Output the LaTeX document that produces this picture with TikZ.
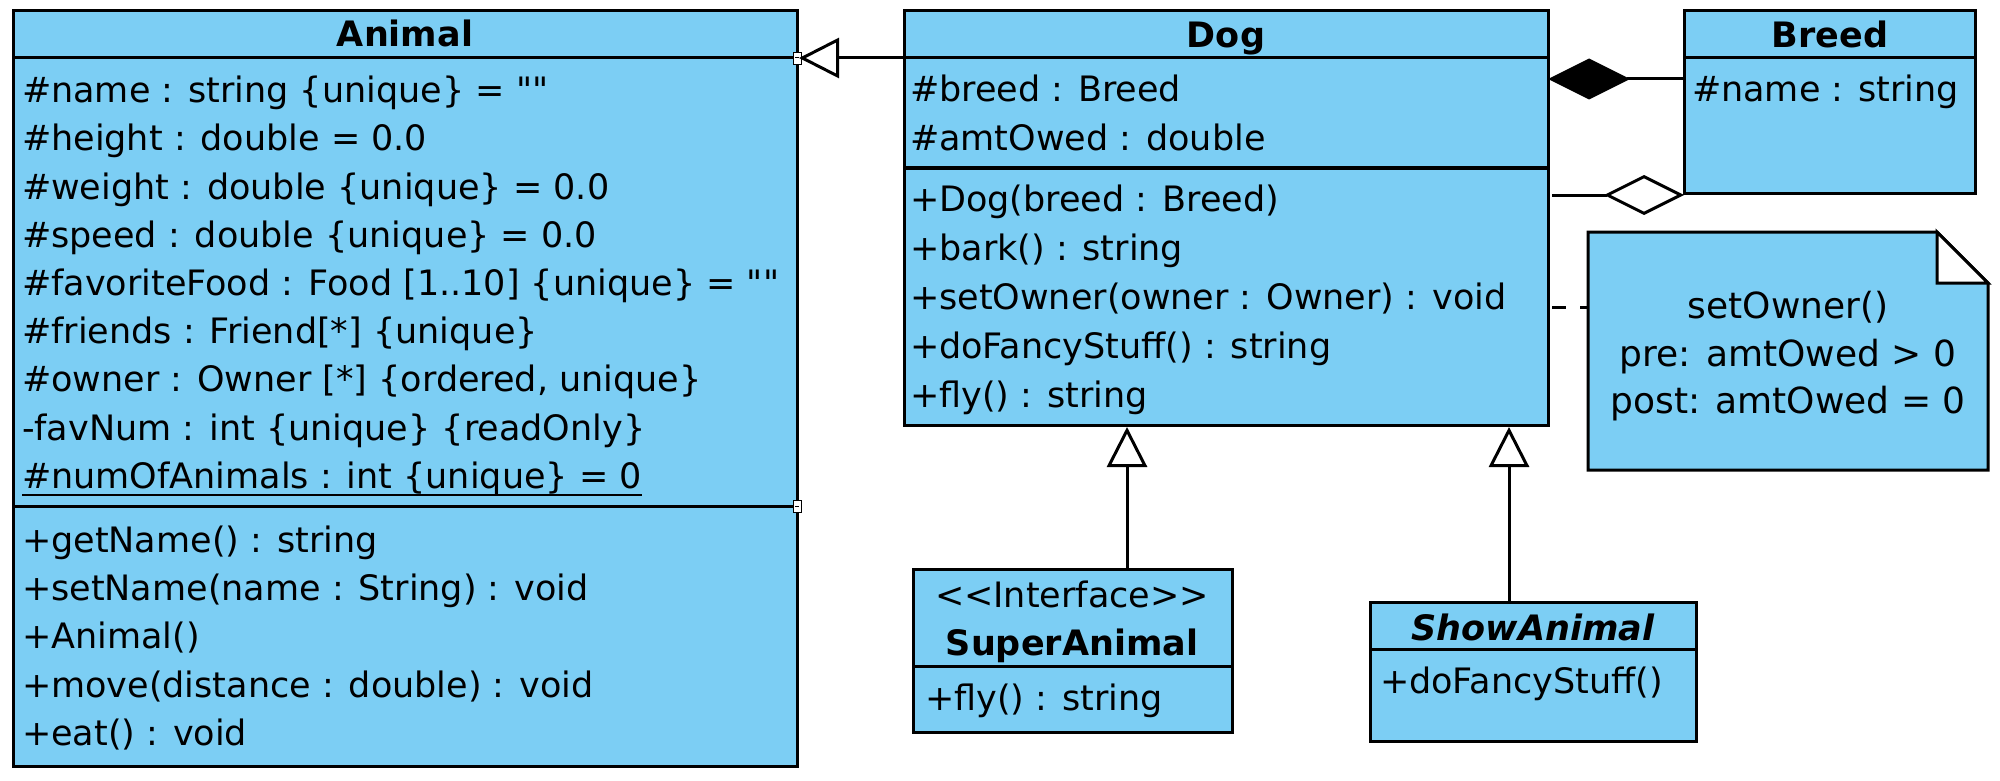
\documentclass[tikz,border=0pt]{standalone}
\usepackage{fontspec}
\setmainfont{DejaVu Sans}[Ligatures=TeXOff]
\usetikzlibrary{arrows.meta,calc}
\definecolor{umlblue}{RGB}{124,206,244}
\begin{document}
\begin{tikzpicture}[x=1pt,y=-1pt,
  box/.style={draw=black, fill=umlblue, line width=3pt, inner sep=0pt, outer sep=0pt, anchor=north west},
  div/.style={line width=3pt},
  txt/.style={inner sep=0pt, outer sep=0pt, anchor=base west, font=\fontsize{35}{42}\selectfont},
  ttl/.style={inner sep=0pt, outer sep=0pt, anchor=base, font=\fontsize{35}{42}\selectfont\bfseries},
  notetxt/.style={inner sep=0pt, outer sep=0pt, anchor=base, font=\fontsize{36}{43}\selectfont},
  conn/.style={line width=3pt},
  gen/.style={conn, -{Triangle[length=40pt,width=40pt,fill=white]}, shorten >=2pt},
  comp/.style={conn, -{Diamond[length=82pt,width=41pt]}},
  aggr/.style={conn, -{Diamond[length=80pt,width=40pt,fill=white]}},
  notelink/.style={conn, dash pattern=on 14pt off 14pt},
  handle/.style={fill=white, draw=black, line width=0.8pt}
]
\useasboundingbox (0,0) rectangle (2000,781);

% ---------------- Animal ----------------
\node[box, minimum width=784pt, minimum height=755pt] (animal) at (13,11) {};
\draw[div] (animal.west |- 0,58) -- (animal.east |- 0,58);
\draw[div] (animal.west |- 0,506) -- (animal.east |- 0,506);
\node[ttl] (animalT) at (405,47) {Animal};
\node[txt] (a1) at (22,103) {\#name : string \{unique\} = ""};
\node[txt] (a2) at (22,151) {\#height : double = 0.0};
\node[txt] (a3) at (22,199) {\#weight : double \{unique\} = 0.0};
\node[txt] (a4) at (22,247) {\#speed : double \{unique\} = 0.0};
\node[txt] (a5) at (22,295) {\#favoriteFood : Food [1..10] \{unique\} = ""};
\node[txt] (a6) at (22,343) {\#friends : Friend[*] \{unique\}};
\node[txt] (a7) at (22,391) {\#owner : Owner [*] \{ordered, unique\}};
\node[txt] (a8) at (22,440) {-favNum : int \{unique\} \{readOnly\}};
\node[txt] (a9) at (22,488) {\#numOfAnimals : int \{unique\} = 0};
\draw[line width=2.5pt] ([yshift=-7pt]a9.base west) -- ([yshift=-7pt]a9.base east);
\node[txt] (o1) at (22,552) {+getName() : string};
\node[txt] (o2) at (22,600) {+setName(name : String) : void};
\node[txt] (o3) at (22,648) {+Animal()};
\node[txt] (o4) at (22,697) {+move(distance : double) : void};
\node[txt] (o5) at (22,745) {+eat() : void};
\draw[handle] (793,52) rectangle (801,64);
\draw[line width=1pt] (795,58) -- (799,58);
\draw[handle] (793,500) rectangle (801,512);
\draw[line width=1pt] (795,506) -- (799,506);

% ---------------- Dog ----------------
\node[box, minimum width=644pt, minimum height=414pt] (dog) at (904,11) {};
\draw[div] (dog.west |- 0,58) -- (dog.east |- 0,58);
\draw[div] (dog.west |- 0,168) -- (dog.east |- 0,168);
\node[ttl] (dogT) at (1226,48) {Dog};
\node[txt] (d1) at (910,102) {\#breed : Breed};
\node[txt] (d2) at (910,150) {\#amtOwed : double};
\node[txt] (d3) at (910,211) {+Dog(breed : Breed)};
\node[txt] (d4) at (910,260) {+bark() : string};
\node[txt] (d5) at (910,309) {+setOwner(owner : Owner) : void};
\node[txt] (d6) at (910,358) {+doFancyStuff() : string};
\node[txt] (d7) at (910,407) {+fly() : string};

% ---------------- Breed ----------------
\node[box, minimum width=291pt, minimum height=182pt] (breed) at (1684,11) {};
\draw[div] (breed.west |- 0,58) -- (breed.east |- 0,58);
\node[ttl] (breedT) at (1830,48) {Breed};
\node[txt] (b1) at (1692,102) {\#name : string};

% ---------------- SuperAnimal ----------------
\node[box, minimum width=319pt, minimum height=163pt] (super) at (913,569) {};
\draw[div] (super.west |- 0,666) -- (super.east |- 0,666);
\node[inner sep=0pt, anchor=base, font=\fontsize{35}{42}\selectfont] (superS) at (1072,607) {<\kern0pt<Interface>\kern0pt>};
\node[ttl] (superT) at (1072,655) {SuperAnimal};
\node[txt] (s1) at (925,710) {+fly() : string};

% ---------------- ShowAnimal ----------------
\node[box, minimum width=326pt, minimum height=139pt] (show) at (1370,602) {};
\draw[div] (show.west |- 0,649) -- (show.east |- 0,649);
\node[ttl, font=\fontsize{35}{42}\selectfont\bfseries\itshape] (showT) at (1533,640) {ShowAnimal};
\node[txt] (w1) at (1380,693) {+doFancyStuff()};

% ---------------- Note ----------------
\node[inner sep=0pt, outer sep=0pt, minimum width=400pt, minimum height=238pt, anchor=north west] (note) at (1588,232) {};
\draw[line width=3pt, fill=umlblue, line join=miter]
  (note.north west) -- ([xshift=-51pt]note.north east) -- ([yshift=-51pt]note.north east)
  -- (note.south east) -- (note.south west) -- cycle;
\draw[line width=3pt, fill=white, line join=miter]
  ([xshift=-51pt]note.north east) -- ([xshift=-51pt,yshift=-51pt]note.north east)
  -- ([yshift=-51pt]note.north east) -- cycle;
\node[notetxt] (n1) at (1788,318) {setOwner()};
\node[notetxt] (n2) at (1788,366) {pre: amtOwed > 0};
\node[notetxt] (n3) at (1788,413) {post: amtOwed = 0};

% ---------------- Connectors ----------------
\coordinate (dogGen) at (904,58);
\draw[gen] (dogGen) -- (animal.east |- dogGen);

\coordinate (superTop) at (1127,569);
\draw[gen] (superTop) -- (superTop |- dog.south);
\coordinate (showTop) at (1509,602);
\draw[gen] (showTop) -- (showTop |- dog.south);

\coordinate (compB) at (1684,79);
\draw[comp] (compB) -- (dog.east |- compB);

\coordinate (aggD) at (1552,195);
\draw[aggr] (aggD) -- (breed.west |- aggD);

\coordinate (noteD) at (1552,307);
\draw[notelink] (noteD) -- (note.west |- noteD);

\end{tikzpicture}
\end{document}
